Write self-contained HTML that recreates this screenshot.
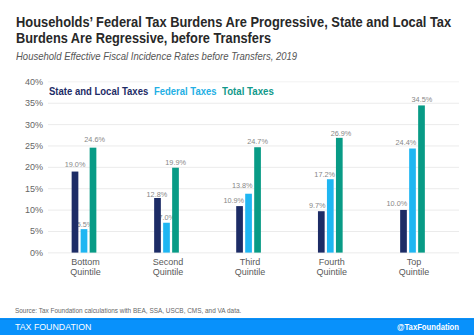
<!DOCTYPE html>
<html><head><meta charset="utf-8">
<style>
*{margin:0;padding:0;box-sizing:border-box}
html,body{width:474px;height:335px;overflow:hidden;background:#fff;font-family:"Liberation Sans",sans-serif}
.abs{position:absolute;white-space:nowrap;transform-origin:0 0;line-height:1}
.t{left:16px;font-size:15px;font-weight:bold;color:#282828}
#st{left:16px;top:51px;font-size:10.5px;font-style:italic;color:#555;transform:scaleX(0.906)}
.yl{position:absolute;left:0px;width:43px;text-align:right;font-size:9px;color:#666;line-height:10px}
.gl{position:absolute;left:48px;width:411px;height:1px;background:#e6e6e6}
.bar{position:absolute}
.n{background:#1d2c66}.b{background:#1fb6f2}.g{background:#089b86}
.vl{position:absolute;font-size:7.3px;color:#878787;width:40px;text-align:center;line-height:10px}
.xl{position:absolute;top:256.5px;width:60px;text-align:center;font-size:9px;color:#595959;line-height:10px}
.lg{top:87px;font-size:10.2px;font-weight:bold}
#src{left:15px;top:307px;font-size:7.2px;color:#666;transform:scaleX(0.893)}
#foot{position:absolute;left:0;top:318px;width:474px;height:17px;background:#0891fb}
#f1{left:15px;top:322.5px;font-size:8.8px;color:#fff}
#f2{left:396.5px;top:322.5px;font-size:9px;color:#fff;font-weight:bold;transform:scaleX(0.854)}
</style></head><body>
<div class="abs t" style="top:14px;transform:scaleX(0.8577)">Households’ Federal Tax Burdens Are Progressive, State and Local Tax</div>
<div class="abs t" style="top:30px;transform:scaleX(0.8512)">Burdens Are Regressive, before Transfers</div>
<div class="abs" id="st">Household Effective Fiscal Incidence Rates before Transfers, 2019</div>
<div class="yl" style="top:76.85px">40%</div>
<div class="yl" style="top:98.22px">35%</div>
<div class="yl" style="top:119.60px">30%</div>
<div class="yl" style="top:140.97px">25%</div>
<div class="yl" style="top:162.35px">20%</div>
<div class="yl" style="top:183.72px">15%</div>
<div class="yl" style="top:205.10px">10%</div>
<div class="yl" style="top:226.47px">5%</div>
<div class="yl" style="top:247.85px">0%</div>
<div class="abs lg" style="left:49px;color:#1d2c66;transform:scaleX(0.934)">State and Local Taxes</div>
<div class="abs lg" style="left:154px;color:#24afe4;transform:scaleX(0.93)">Federal Taxes</div>
<div class="abs lg" style="left:221.5px;color:#11998a;transform:scaleX(0.949)">Total Taxes</div>
<div class="vl" style="left:55.05px;top:159.70px">19.0%</div>
<div class="vl" style="left:65.00px;top:220.30px">5.5%</div>
<div class="vl" style="left:74.65px;top:135.10px">24.6%</div>
<div class="vl" style="left:136.90px;top:189.70px">12.8%</div>
<div class="vl" style="left:146.80px;top:213.10px">7.0%</div>
<div class="vl" style="left:155.65px;top:157.90px">19.9%</div>
<div class="vl" style="left:213.75px;top:196.10px">10.9%</div>
<div class="vl" style="left:222.25px;top:181.10px">13.8%</div>
<div class="vl" style="left:237.55px;top:136.90px">24.7%</div>
<div class="vl" style="left:297.25px;top:200.70px">9.7%</div>
<div class="vl" style="left:304.70px;top:169.80px">17.2%</div>
<div class="vl" style="left:321.00px;top:128.50px">26.9%</div>
<div class="vl" style="left:376.85px;top:199.00px">10.0%</div>
<div class="vl" style="left:385.90px;top:137.70px">24.4%</div>
<div class="vl" style="left:401.90px;top:94.70px">34.5%</div>
<svg width="474" height="335" style="position:absolute;left:0;top:0"><rect x="48" y="81.35" width="411" height="1" fill="#f2f2f2"/><rect x="48" y="102.72" width="411" height="1" fill="#ebebeb"/><rect x="48" y="124.10" width="411" height="1" fill="#ebebeb"/><rect x="48" y="145.47" width="411" height="1" fill="#ebebeb"/><rect x="48" y="166.85" width="411" height="1" fill="#ebebeb"/><rect x="48" y="188.22" width="411" height="1" fill="#ebebeb"/><rect x="48" y="209.60" width="411" height="1" fill="#ebebeb"/><rect x="48" y="230.97" width="411" height="1" fill="#ebebeb"/><rect x="48" y="252.35" width="411" height="1" fill="#ebebeb"/><rect x="71.65" y="171.55" width="6.7" height="81.05" fill="#1d2c66"/><rect x="80.65" y="229.14" width="6.7" height="23.46" fill="#1fb6f2"/><rect x="89.65" y="147.66" width="6.7" height="104.94" fill="#089b86"/><rect x="154.15" y="198.00" width="6.7" height="54.60" fill="#1d2c66"/><rect x="163.15" y="222.74" width="6.7" height="29.86" fill="#1fb6f2"/><rect x="172.15" y="167.71" width="6.7" height="84.89" fill="#089b86"/><rect x="236.20" y="206.10" width="6.7" height="46.50" fill="#1d2c66"/><rect x="245.20" y="193.73" width="6.7" height="58.87" fill="#1fb6f2"/><rect x="254.20" y="147.23" width="6.7" height="105.37" fill="#089b86"/><rect x="317.95" y="211.22" width="6.7" height="41.38" fill="#1d2c66"/><rect x="326.95" y="179.22" width="6.7" height="73.38" fill="#1fb6f2"/><rect x="335.95" y="137.84" width="6.7" height="114.76" fill="#089b86"/><rect x="400.15" y="209.94" width="6.7" height="42.66" fill="#1d2c66"/><rect x="409.15" y="148.51" width="6.7" height="104.09" fill="#1fb6f2"/><rect x="418.15" y="105.42" width="6.7" height="147.18" fill="#089b86"/></svg>
<div class="xl" style="left:55.50px">Bottom<br>Quintile</div>
<div class="xl" style="left:138.00px">Second<br>Quintile</div>
<div class="xl" style="left:220.05px">Third<br>Quintile</div>
<div class="xl" style="left:301.80px">Fourth<br>Quintile</div>
<div class="xl" style="left:384.00px">Top<br>Quintile</div>
<div class="abs" id="src">Source: Tax Foundation calculations with BEA, SSA, USCB, CMS, and VA data.</div>
<div id="foot"></div><div style="position:absolute;left:0;top:318.6px;width:474px;height:1px;background:#0b86e8"></div>
<div class="abs" id="f1">TAX FOUNDATION</div>
<div class="abs" id="f2">@TaxFoundation</div>
</body></html>
